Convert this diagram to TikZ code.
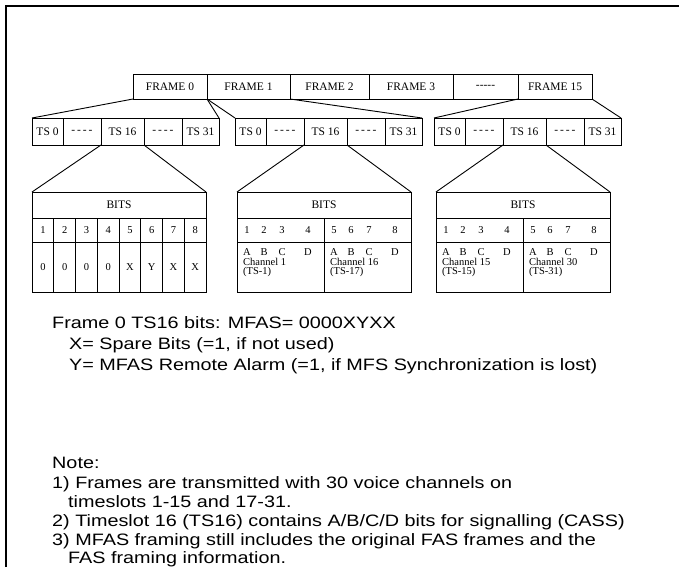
\documentclass[tikz,border=0pt]{standalone}
\usepackage{fontspec}
\setmainfont{Liberation Sans}
\newfontfamily\notefont[FakeStretch=1.2]{Liberation Sans}
\newfontfamily\tms{Liberation Serif}
\usetikzlibrary{positioning}

\tikzset{
  cell/.style={draw, line width=0.9pt, inner sep=0pt, outer sep=0pt, font=\tms\fontsize{11.5}{12}\selectfont},
  fcell/.style={cell, minimum height=25pt},
  tscell/.style={cell, minimum height=27pt},
  bitnum/.style={inner sep=0pt, font=\tms\fontsize{10.5}{11}\selectfont},
  chan/.style={inner sep=0pt, align=left, font=\tms\fontsize{10.5}{9.5}\selectfont},
  link/.style={line width=0.9pt},
  txt/.style={inner sep=0pt, anchor=base west, font=\notefont\fontsize{16.5}{18}\selectfont},
}

\begin{document}
\begin{tikzpicture}[x=1pt,y=-1pt]
\useasboundingbox (0,0) rectangle (679,567);
\draw[line width=1.2pt] (6,567) -- (6,6) -- (679,6);

% frames
\node[fcell, minimum width=74pt, anchor=west] (f0) at (133,86.5) {FRAME 0};
\node[fcell, minimum width=83pt, right=0pt of f0] (f1) {FRAME 1};
\node[fcell, minimum width=79pt, right=0pt of f1] (f2) {FRAME 2};
\node[fcell, minimum width=84pt, right=0pt of f2] (f3) {FRAME 3};
\node[fcell, minimum width=65pt, right=0pt of f3] (fdots) {-{}-{}-{}-{}-};
\node[fcell, minimum width=74pt, right=0pt of fdots] (f15) {FRAME 15};

% timeslots
\foreach \t/\x in {a/32, b/235, c/434} {
  \node[tscell, minimum width=31pt, anchor=west] (\t0) at (\x,131.5) {TS 0};
  \node[tscell, minimum width=38pt, right=0pt of \t0] (\t dotsa) {-\,-\,-\,-};
  \node[tscell, minimum width=43pt, right=0pt of \t dotsa] (\t16) {TS 16};
  \node[tscell, minimum width=38pt, right=0pt of \t16] (\t dotsb) {-\,-\,-\,-};
  \node[tscell, minimum width=37pt, right=0pt of \t dotsb] (\t31) {TS 31};
}
\draw[link] (f0.south west) -- (a0.north west);
\draw[link] (f0.south east) -- (a31.north east);
\draw[link] (f1.south west) -- (b0.north west);
\draw[link] (f1.south east) -- (b31.north east);
\draw[link] (f15.south west) -- (c0.north west);
\draw[link] (f15.south east) -- (c31.north east);

% frame 0 bits
\node[cell, minimum width=174pt, minimum height=26pt, anchor=north west] (abits) at (32,192) {BITS};
\foreach \i/\v in {1/0,2/0,3/0,4/0,5/X,6/Y,7/X,8/X} {
  \node[cell, font=\tms\fontsize{10.5}{11}\selectfont, minimum width=21.75pt, minimum height=24pt, anchor=north west] (an\i) at ({32+(\i-1)*21.75},218) {\i};
  \node[cell, font=\tms\fontsize{10.5}{11}\selectfont, minimum width=21.75pt, minimum height=50pt, anchor=north west] (av\i) at ({32+(\i-1)*21.75},242) {\v};
}
\draw[link] (a16.south west) -- (abits.north west);
\draw[link] (a16.south east) -- (abits.north east);

% signalling bits
\foreach \t/\x/\ca/\ta/\cb/\tb in {b/237/1/1/16/17, c/436/15/15/30/31} {
  \node[cell, minimum width=174pt, minimum height=26pt, anchor=north west] (\t bits) at (\x,192) {BITS};
  \node[cell, minimum width=87pt, minimum height=24pt, anchor=north west] (\t nl) at (\x,218) {};
  \node[cell, minimum width=87pt, minimum height=24pt, right=0pt of \t nl] (\t nr) {};
  \node[cell, minimum width=87pt, minimum height=50pt, below=0pt of \t nl] (\t vl) {};
  \node[cell, minimum width=87pt, minimum height=50pt, right=0pt of \t vl] (\t vr) {};
  \foreach \d/\l [count=\i] in {10/A,27/B,45/C,71/D} {
    \node[bitnum] at ([xshift=\d pt]\t nl.west) {\i};
    \node[bitnum] at ([xshift=\d pt]\t nr.west) {\the\numexpr\i+4\relax};
    \node[bitnum] at ([xshift=\d pt, yshift=-10pt]\t vl.north west) {\l};
    \node[bitnum] at ([xshift=\d pt, yshift=-10pt]\t vr.north west) {\l};
  }
  \node[chan, anchor=north west] at ([xshift=6pt, yshift=-16pt]\t vl.north west) {Channel \ca\\(TS-\ta)};
  \node[chan, anchor=north west] at ([xshift=6pt, yshift=-16pt]\t vr.north west) {Channel \cb\\(TS-\tb)};
  \draw[link] (\t16.south west) -- (\t bits.north west);
  \draw[link] (\t16.south east) -- (\t bits.north east);
}

% text
\node[txt] (mfas) at (52,328) {Frame 0 TS16 bits: MFAS= 0000XYXX};
\node[txt] (spare) at (69,349) {X= Spare Bits (=1, if not used)};
\node[txt] (alarm) at (69,370) {Y= MFAS Remote Alarm (=1, if MFS Synchronization is lost)};
\node[txt] (note) at (52,468) {Note:};
\node[txt] (note1) at (52,488) {1) Frames are transmitted with 30 voice channels on};
\node[txt] (note1b) at (68,507) {timeslots 1-15 and 17-31.};
\node[txt] (note2) at (52,526) {2) Timeslot 16 (TS16) contains A/B/C/D bits for signalling (CASS)};
\node[txt] (note3) at (52,545) {3) MFAS framing still includes the original FAS frames and the};
\node[txt] (note3b) at (68,563) {FAS framing information.};
\end{tikzpicture}
\end{document}
